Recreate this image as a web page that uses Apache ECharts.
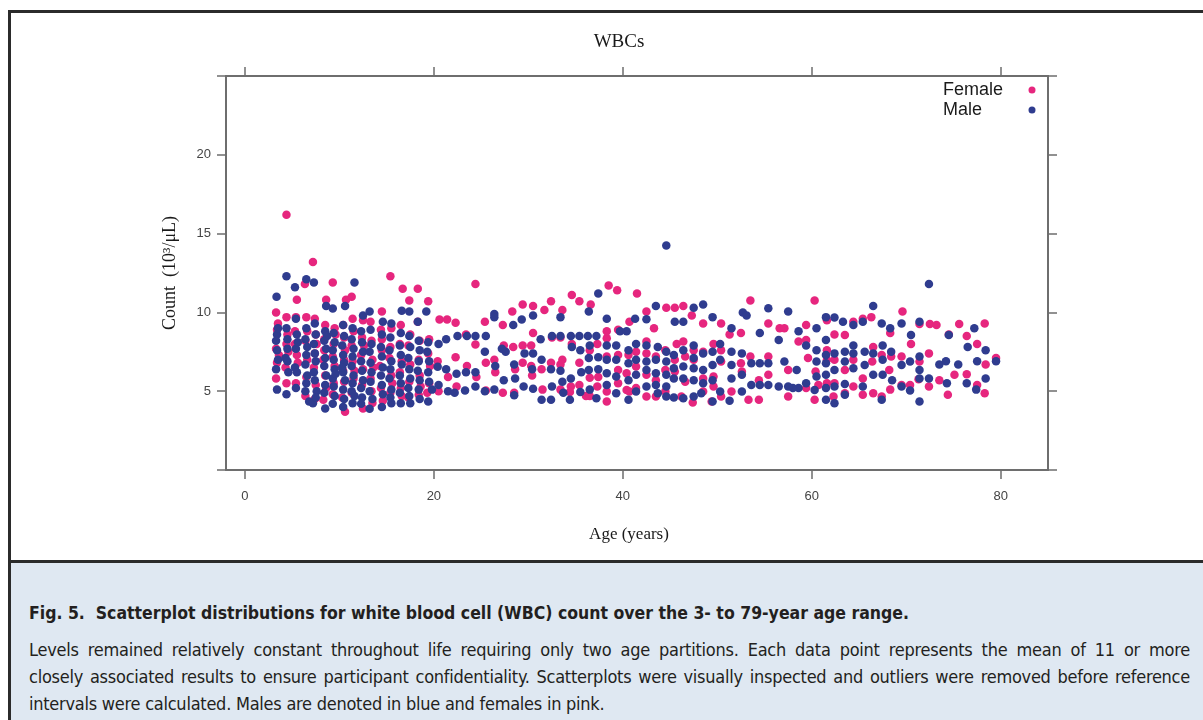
<!DOCTYPE html>
<html>
<head>
<meta charset="utf-8">
<script src="https://cdn.jsdelivr.net/npm/echarts@6/dist/echarts.min.js"></script>
<style>
  html, body { margin: 0; padding: 0; width: 1203px; height: 720px; overflow: hidden; background: #fff; }
  #frame { position: absolute; left: 8px; top: 10px; width: 1300px; height: 800px; border: 3px solid #2b2b2b; box-sizing: border-box; }
  #caption { position: absolute; left: 11px; top: 560px; width: 1300px; height: 200px; background: #dfe8f2; border-top: 3px solid #2b2b2b; }
  #chart { position: absolute; left: 0; top: 0; width: 1203px; height: 560px; }
  .cap { position: absolute; left: 29px; width: 1161px; font-family: "Liberation Sans Narrow", "DejaVu Sans Condensed", sans-serif; color: #231f20; }
  #capTitle { top: 600px; font-size: 17.5px; font-weight: bold; line-height: 26px; }
  #capBody { top: 636px; font-size: 18px; letter-spacing: -0.25px; line-height: 27px; }
  #capBody div { white-space: nowrap; }
  #capBody .full { text-align: justify; text-align-last: justify; }
</style>
</head>
<body>
<div id="frame"></div>
<div id="caption"></div>
<div id="chart"></div>
<div class="cap" id="capTitle">Fig. 5.&nbsp;&nbsp;Scatterplot distributions for white blood cell (WBC) count over the 3- to 79-year age range.</div>
<div class="cap" id="capBody">
  <div class="full">Levels remained relatively constant throughout life requiring only two age partitions. Each data point represents the mean of 11 or more</div>
  <div class="full">closely associated results to ensure participant confidentiality. Scatterplots were visually inspected and outliers were removed before reference</div>
  <div>intervals were calculated. Males are denoted in blue and females in pink.</div>
</div>
<script>
// [age (years), WBC count (10^3/uL)]
const femaleChild = [
  [3.3,10.0],[3.4,8.9],[3.3,7.7],[3.4,6.8],[3.3,5.8],[3.5,9.3],[3.6,7.3],
  [4.4,16.2],[4.4,9.7],[4.5,8.6],[4.4,8.0],[4.3,6.5],[4.4,5.5],[4.6,7.5],
  [5.5,10.8],[5.4,9.7],[5.3,8.0],[5.5,7.3],[5.4,5.5],[5.6,6.8],[5.3,8.8],
  [6.35,11.8],[6.5,9.7],[6.4,8.2],[6.6,7.0],[6.5,5.9],[6.4,4.7],[6.6,8.8],
  [7.2,13.2],[7.4,9.6],[7.5,8.6],[7.4,7.4],[7.3,6.5],[7.5,5.4],[7.4,4.5],[7.6,8.0],
  [8.6,10.8],[8.5,9.2],[8.4,8.3],[8.3,7.0],[8.5,6.0],[8.3,4.45],[8.6,5.2],[8.4,7.6],
  [9.3,11.9],[9.5,9.0],[9.4,8.0],[9.3,7.2],[9.5,6.6],[9.4,5.5],[9.3,4.8],[9.6,8.6],
  [10.7,10.8],[10.4,9.2],[10.5,8.4],[10.6,7.6],[10.4,6.3],[10.5,5.6],[10.6,3.7],[10.3,4.6],[10.5,7.0],
  [11.3,11.0],[11.4,9.6],[11.5,8.8],[11.3,7.9],[11.4,6.9],[11.5,5.8],[11.3,4.9],[11.6,6.3],
  [12.5,9.5],[12.4,8.4],[12.3,7.3],[12.5,6.4],[12.4,5.4],[12.5,3.9],[12.6,7.9],
  [13.3,9.4],[13.4,8.2],[13.5,7.0],[13.3,5.8],[13.5,4.25],[13.6,6.5],[13.4,5.0],
  [14.5,10.05],[14.4,8.9],[14.5,7.6],[14.3,6.6],[14.4,5.2],[14.6,4.4],[14.5,8.3],
  [15.4,12.3],[15.5,9.0],[15.4,7.8],[15.3,7.1],[15.5,6.0],[15.4,4.9],[15.6,5.5],
  [16.7,11.5],[16.5,9.2],[16.4,8.0],[16.6,6.9],[16.5,5.2],[16.4,6.2],[16.6,4.7],
  [17.4,10.75],[17.5,8.6],[17.3,7.9],[17.5,6.7],[17.4,5.6],[17.3,4.6],
  [18.3,11.5],[18.3,9.4],[18.5,8.2],[18.4,7.0],[18.5,6.0],[18.4,4.77],[18.6,5.3],
  [19.4,10.7],[19.5,8.3],[19.4,7.4],[19.6,6.6],[19.5,5.5],[19.3,4.9]
];
const femaleYoung = [
  [20.6,9.55],[21.4,9.55],[22.3,9.35],[20.5,5.0],[22.4,5.3],[22.3,7.15],[20.4,6.9],[21.5,5.9],
  [24.4,11.8],[24.4,7.96],[24.5,5.9],[23.4,8.6],[25.5,5.05],[25.4,9.4],[27.3,9.2],[27.4,7.9],
  [27.3,4.9],[26.4,7.0],[26.5,6.2],[23.5,6.6],[25.5,6.8],
  [28.3,10.05],[28.5,4.9],[28.4,7.8],[28.6,6.4],[29.4,10.5],[29.4,7.9],[29.4,6.8],[30.5,10.4],
  [30.5,8.7],[30.3,7.9],[30.4,6.0],[30.3,6.6],[31.5,5.1],[31.7,10.15],[31.4,6.4],
  [32.4,10.7],[32.5,8.4],[32.4,6.8],[33.6,10.15],[33.4,8.4],[33.4,6.7],[33.4,5.1],[33.6,7.0],
  [34.6,11.1],[34.5,5.3],[34.6,8.0],[34.4,4.95],[35.4,10.7],[35.4,6.8],[35.4,5.4],[36.1,4.7],
  [36.6,10.5],[36.5,4.7],[36.5,5.85],[36.5,7.6],[37.3,5.3],[37.4,5.9],[37.3,8.0]
];
const femaleAdult = [
  [38.5,11.7],[39.4,11.4],[41.5,11.2],[53.5,10.75],[60.3,10.75],[44.6,10.3],[45.5,10.3],[46.4,10.4],
  [42.5,10.05],[69.6,10.05],[40.7,9.4],[43.3,9.0],[47.3,9.8],[48.5,9.3],[50.4,9.3],[51.3,8.6],
  [52.5,8.7],[55.4,9.3],[56.6,9.0],[57.1,9.0],[59.4,9.2],[61.6,9.5],[64.4,9.4],[65.4,9.6],
  [66.3,9.7],[68.3,8.7],[72.5,9.27],[73.2,9.2],[71.4,9.27],[74.5,8.6],[75.6,9.27],[78.3,9.3],
  [76.4,8.5],[77.5,8.0],[79.5,7.1],[78.4,6.7],[76.4,6.08],[77.5,5.4],[78.3,4.87],[75.1,6.04],
  [74.4,4.77],[73.5,5.7],[72.4,7.4],[70.5,8.0],[71.3,5.76],[72.4,5.3],[71.4,6.88],[70.4,5.4],
  [69.5,5.4],[69.5,7.2],[68.4,7.2],[68.3,5.1],[68.2,6.35],[67.4,7.3],[67.4,4.66],[66.5,7.8],
  [66.5,4.87],[66.4,6.88],[65.4,5.8],[65.4,4.77],[64.4,7.0],[64.4,5.3],[63.5,6.35],[63.5,4.87],
  [63.5,8.57],[62.4,8.6],[62.4,7.0],[62.4,5.5],[62.3,4.66],[61.6,7.6],[61.6,7.0],[61.6,5.5],
  [60.4,6.25],[60.3,4.45],[60.7,5.4],[59.6,7.1],[59.4,8.25],[59.4,5.2],[58.6,8.15],[57.5,4.66],
  [57.5,6.35],[55.4,6.04],[55.4,7.2],[54.4,5.7],[54.4,4.45],[53.5,7.2],[53.3,4.45],[52.6,6.25],
  [52.5,6.77],[51.5,4.98],[50.4,7.6],[50.4,6.88],[50.4,4.66],[49.6,8.0],[49.6,5.93],[49.6,5.3],
  [49.4,4.34],[48.5,7.5],[48.5,5.8],[48.5,4.98],[47.5,7.6],[47.5,7.0],[47.4,4.28],[46.4,8.15],
  [46.6,7.2],[46.6,5.6],[46.2,4.66],[45.5,7.0],[45.5,6.25],[45.7,8.0],[44.5,7.6],[44.5,6.35],
  [44.5,4.98],[43.5,7.2],[43.5,5.7],[43.5,4.66],[42.5,8.15],[42.5,7.4],[42.5,6.04],[42.5,4.66],
  [41.4,7.5],[41.4,6.56],[41.4,5.2],[40.6,7.3],[40.4,6.14],[40.4,5.08],[40.7,4.98],[39.5,8.9],
  [39.5,7.3],[39.5,6.35],[39.5,5.5],[38.3,8.36],[38.3,7.2],[38.3,4.98],[38.3,4.34],[38.3,8.8]
];

const maleChild = [
  [3.35,11.0],[3.4,8.6],[3.3,8.2],[3.4,7.6],[3.5,7.0],[3.3,6.4],[3.4,5.1],[3.5,9.0],
  [4.4,12.3],[4.4,9.0],[4.5,8.3],[4.3,7.1],[4.5,6.9],[4.4,4.8],[4.6,6.2],[4.5,7.7],
  [5.3,11.6],[5.4,9.6],[5.5,8.6],[5.4,7.7],[5.3,6.5],[5.5,6.2],[5.4,5.2],[5.6,8.1],
  [6.5,12.1],[6.5,9.0],[6.4,8.3],[6.6,7.8],[6.5,7.3],[6.4,6.7],[6.6,6.0],[6.5,5.5],[6.8,4.34],[6.4,5.0],
  [7.3,11.9],[7.4,9.3],[7.5,8.6],[7.3,8.0],[7.4,7.4],[7.5,6.9],[7.3,6.2],[7.4,5.7],[7.6,5.0],[7.2,4.24],[7.5,4.6],
  [8.6,10.4],[8.5,8.8],[8.4,8.2],[8.6,7.7],[8.5,7.1],[8.4,6.6],[8.6,6.0],[8.5,5.4],[8.4,4.9],[8.5,3.9],[8.7,8.5],
  [9.3,10.25],[9.4,8.7],[9.5,8.1],[9.3,7.6],[9.4,7.0],[9.5,6.4],[9.3,5.8],[9.4,5.3],[9.5,4.7],[9.3,4.2],[9.6,6.1],
  [10.6,10.4],[10.4,9.2],[10.5,8.5],[10.3,7.9],[10.4,7.3],[10.5,6.8],[10.4,6.2],[10.6,5.7],[10.4,5.1],[10.5,4.5],[10.4,4.0],[10.3,6.5],
  [11.6,11.9],[11.4,9.0],[11.3,8.3],[11.5,7.7],[11.4,7.2],[11.3,6.6],[11.5,6.0],[11.4,5.5],[11.3,5.0],[11.4,4.24],[11.6,4.7],
  [12.5,9.8],[12.3,8.8],[12.4,8.1],[12.5,7.5],[12.3,6.9],[12.4,6.3],[12.5,5.7],[12.3,5.2],[12.4,4.6],[12.3,4.2],
  [13.2,10.05],[13.3,8.9],[13.4,8.0],[13.2,7.5],[13.3,6.8],[13.4,6.2],[13.3,5.6],[13.2,5.0],[13.2,3.88],[13.5,4.5],
  [14.6,9.4],[14.5,8.6],[14.4,7.8],[14.5,7.2],[14.6,6.5],[14.4,6.0],[14.5,5.4],[14.6,4.8],[14.5,4.0],
  [15.5,9.3],[15.4,8.4],[15.3,7.6],[15.5,6.9],[15.4,6.4],[15.3,5.8],[15.5,5.1],[15.5,4.24],[15.4,4.6],
  [16.6,10.1],[16.5,8.7],[16.4,7.9],[16.5,7.3],[16.6,6.7],[16.4,6.0],[16.5,5.5],[16.4,4.9],[16.5,4.24],
  [17.4,10.05],[17.4,8.5],[17.5,7.8],[17.3,7.1],[17.4,6.4],[17.5,5.8],[17.3,5.2],[17.5,4.24],[17.4,4.7],
  [18.3,9.4],[18.4,8.2],[18.5,7.6],[18.4,6.9],[18.3,6.3],[18.5,5.7],[18.4,5.1],[18.5,4.5],
  [19.2,10.05],[19.4,8.1],[19.3,7.5],[19.5,6.9],[19.4,6.2],[19.5,5.6],[19.8,5.1],[19.4,4.34]
];
const maleYoung = [
  [20.5,8.0],[21.3,8.3],[22.5,8.5],[23.5,8.5],[24.4,8.5],[25.5,8.5],[22.4,6.1],[23.4,6.2],
  [24.4,6.2],[20.4,6.55],[21.3,6.4],[20.5,5.4],[21.5,5.0],[22.2,4.9],[23.3,5.05],[24.4,5.3],
  [25.4,5.0],[26.4,5.1],[27.4,5.7],[26.4,9.9],[26.4,9.7],[27.6,7.5],[27.2,7.7],[26.5,6.6],[25.4,7.5],
  [28.4,9.2],[29.3,9.55],[30.5,9.8],[33.4,9.7],[36.4,10.05],[37.4,11.2],[31.3,8.3],[32.5,8.5],
  [33.4,8.5],[34.5,8.5],[35.4,8.5],[36.3,8.5],[37.2,8.5],[29.6,7.4],[30.5,7.4],[28.5,6.7],
  [28.6,5.8],[30.4,6.4],[29.5,5.3],[30.5,5.15],[31.4,4.45],[32.4,4.45],[31.4,7.0],[32.4,6.4],
  [32.5,5.3],[33.4,6.3],[33.6,5.6],[33.7,4.9],[34.4,4.45],[34.5,5.8],[34.6,7.8],[35.5,7.6],
  [35.5,4.95],[37.2,4.55],[36.5,5.1],[36.4,6.35],[37.4,6.4],[35.6,6.2],[36.4,7.1],[37.4,7.15],
  [36.5,7.9],[28.5,4.75]
];
const maleAdult = [
  [72.4,11.8],[44.6,14.25],[43.5,10.4],[47.5,10.3],[48.5,10.5],[52.7,10.0],[53.1,9.8],[55.4,10.27],
  [57.5,10.05],[66.5,10.4],[38.3,9.6],[41.3,9.6],[42.5,9.57],[45.5,9.4],[46.4,9.4],[49.5,9.7],
  [51.5,9.0],[54.5,8.7],[56.5,8.25],[58.6,8.8],[60.5,9.0],[61.5,9.7],[62.4,9.67],[63.3,9.4],
  [64.4,9.2],[65.4,9.4],[67.4,9.3],[68.3,9.0],[69.5,9.3],[70.5,8.57],[71.4,9.4],[74.5,8.57],
  [77.2,9.0],[76.5,7.8],[78.4,7.6],[79.5,6.9],[77.5,6.9],[76.4,5.5],[77.4,5.1],[78.4,5.8],
  [74.3,5.5],[73.5,6.7],[74.2,6.9],[75.5,6.7],[71.4,7.2],[71.4,6.35],[71.4,5.8],[72.4,5.8],
  [71.4,4.34],[70.4,6.88],[70.4,5.04],[69.5,6.67],[69.5,5.3],[68.4,7.5],[68.5,5.7],[67.5,7.9],
  [67.5,6.99],[67.5,6.04],[67.4,4.45],[66.5,7.4],[66.5,6.04],[65.6,7.5],[65.6,6.67],[65.4,5.3],
  [64.4,7.9],[64.4,7.4],[64.4,6.46],[63.5,7.5],[63.5,6.88],[63.5,5.46],[63.5,4.77],[62.4,7.4],
  [62.4,6.35],[62.4,5.3],[62.4,4.24],[61.5,8.25],[61.5,7.3],[61.5,6.77],[61.5,6.04],[61.5,5.2],
  [61.5,4.45],[60.5,7.6],[60.5,6.88],[60.5,5.93],[60.3,5.08],[59.4,7.9],[59.4,5.5],[58.6,5.2],
  [58.0,5.2],[58.4,6.35],[57.5,5.3],[57.1,6.88],[56.5,5.3],[55.4,6.77],[55.4,5.4],[54.5,6.77],
  [54.5,5.4],[53.6,6.77],[53.6,5.4],[52.6,7.4],[52.6,6.04],[52.6,4.98],[51.5,7.5],[51.5,6.67],
  [51.5,5.8],[51.3,4.4],[50.3,8.0],[50.3,7.0],[50.3,4.98],[49.5,7.5],[49.5,6.67],[49.5,5.7],
  [49.5,4.34],[48.5,7.4],[48.5,6.35],[48.5,5.5],[48.3,4.87],[47.5,7.9],[47.5,7.1],[47.5,6.46],
  [47.5,5.7],[47.5,4.66],[46.4,7.6],[46.4,6.56],[46.4,5.8],[46.4,4.55],[45.4,7.3],[45.4,6.46],
  [45.4,5.8],[45.4,4.6],[44.6,7.5],[44.6,6.88],[44.6,6.04],[44.6,5.3],[44.6,4.66],[43.7,7.8],
  [43.7,4.87],[43.5,7.0],[43.5,6.14],[43.5,5.4],[42.5,7.9],[42.5,6.88],[42.5,6.35],[42.5,5.3],
  [41.4,8.0],[41.4,7.0],[41.4,6.04],[41.4,4.98],[40.6,7.6],[40.6,6.77],[40.6,5.7],[40.6,4.45],
  [39.3,7.9],[39.3,7.0],[39.3,5.93],[39.3,4.87],[38.3,7.9],[38.3,7.0],[38.3,6.14],[38.3,5.4],
  [39.7,8.8],[40.4,8.8]
];

const xTicks = [0, 20, 40, 60, 80];
const yTicks = [0, 5, 10, 15, 20, 25];
const yLabels = [5, 10, 15, 20];

const femaleData = femaleChild.concat(femaleYoung, femaleAdult);
const maleData = maleChild.concat(maleYoung, maleAdult);

const axisColor = '#6e6e6e';
const lineStyle = { color: axisColor, width: 2 };
const tickStyle = { color: axisColor, width: 1.5 };

const chart = echarts.init(document.getElementById('chart'), null, { renderer: 'canvas' });

const xBase = {
  type: 'value', min: -2, max: 85,
  axisLine: { show: true, onZero: false, lineStyle },
  splitLine: { show: false },
  axisTick: { show: true, length: 9, lineStyle: tickStyle, customValues: xTicks }
};
const yBase = {
  type: 'value', min: 0, max: 25, interval: 5,
  axisLine: { show: true, onZero: false, lineStyle },
  splitLine: { show: false },
  axisTick: { show: true, length: 9, lineStyle: tickStyle, customValues: yTicks }
};

chart.setOption({
  animation: false,
  title: {
    text: 'WBCs', left: 614, top: 28, textAlign: 'center',
    textStyle: { fontFamily: 'Liberation Serif', fontSize: 19, fontWeight: 'normal', color: '#1a1a1a' }
  },
  legend: {
    orient: 'vertical', left: 943, top: 81, align: 'right', padding: 0,
    selectedMode: false, itemWidth: 8, itemHeight: 7, itemGap: 2,
    icon: 'circle',
    formatter: '{n|{name}}',
    textStyle: {
      fontFamily: 'Liberation Sans', fontSize: 18, color: '#1a1a1a', lineHeight: 18,
      rich: { n: { width: 80, align: 'left', fontFamily: 'Liberation Sans', fontSize: 18, color: '#1a1a1a', lineHeight: 18 } }
    },
    data: ['Female', 'Male']
  },
  grid: { left: 226, top: 76, width: 822, height: 394, containLabel: false, outerBoundsMode: 'none' },
  xAxis: [
    Object.assign({}, xBase, {
      position: 'bottom',
      name: 'Age (years)', nameLocation: 'middle', nameGap: 56,
      nameTextStyle: { fontFamily: 'Liberation Serif', fontSize: 17, color: '#1a1a1a', padding: [0, 16, 0, 0] },
      axisLabel: { show: true, margin: 20, fontFamily: 'Liberation Sans', fontSize: 13, color: '#444', customValues: xTicks }
    }),
    Object.assign({}, xBase, { position: 'top', axisLabel: { show: false } })
  ],
  yAxis: [
    Object.assign({}, yBase, {
      position: 'left',
      name: 'Count  (10³/μL)', nameLocation: 'middle', nameGap: 47,
      nameTextStyle: { fontFamily: 'Liberation Serif', fontSize: 18, color: '#1a1a1a' },
      axisLabel: { show: true, margin: 15, fontFamily: 'Liberation Sans', fontSize: 13, color: '#444', customValues: yLabels }
    }),
    Object.assign({}, yBase, { position: 'right', axisLabel: { show: false } })
  ],
  series: [
    {
      name: 'Female', type: 'scatter', xAxisIndex: 0, yAxisIndex: 0,
      symbolSize: 8.5, itemStyle: { color: '#e6267e', opacity: 1 },
      data: femaleData
    },
    {
      name: 'Male', type: 'scatter', xAxisIndex: 0, yAxisIndex: 0,
      symbolSize: 8.5, itemStyle: { color: '#2f3c8f', opacity: 1 },
      data: maleData
    }
  ]
});
</script>
</body>
</html>
